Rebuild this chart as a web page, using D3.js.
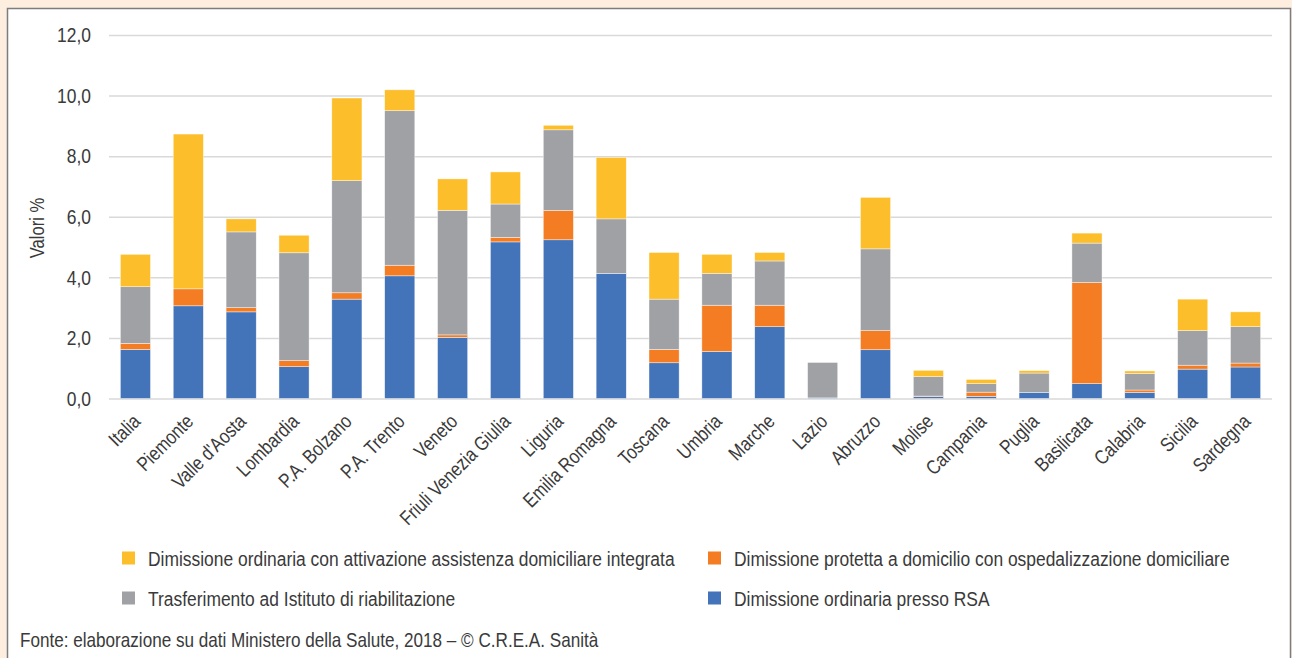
<!DOCTYPE html>
<html>
<head>
<meta charset="utf-8">
<script src="https://cdn.jsdelivr.net/npm/d3@7"></script>
<style>
  html, body { margin: 0; padding: 0; background: #fdeee0; }
  svg { display: block; }
  text { font-family: "Liberation Sans", Arial, sans-serif; fill: #3a3a3a; }
</style>
</head>
<body>
<svg id="chart" width="1292" height="658"></svg>
<script>
// Regioni (e media nazionale)
const categories = ["Italia", "Piemonte", "Valle d'Aosta", "Lombardia", "P.A. Bolzano", "P.A. Trento",
  "Veneto", "Friuli Venezia Giulia", "Liguria", "Emilia Romagna", "Toscana", "Umbria", "Marche",
  "Lazio", "Abruzzo", "Molise", "Campania", "Puglia", "Basilicata", "Calabria", "Sicilia", "Sardegna"];

// Valori % per modalità di dimissione
const rsa =            [1.62, 3.06, 2.86, 1.05, 3.28, 4.05, 2.02, 5.17, 5.24, 4.13, 1.18, 1.55, 2.37, 0.02, 1.61, 0.06, 0.07, 0.20, 0.49, 0.20, 0.97, 1.04];
const protetta =       [0.20, 0.56, 0.14, 0.20, 0.21, 0.35, 0.08, 0.15, 0.97, 0.00, 0.44, 1.53, 0.71, 0.00, 0.63, 0.02, 0.14, 0.00, 3.34, 0.08, 0.13, 0.13];
const riabilitazione = [1.87, 0.00, 2.50, 3.56, 3.70, 5.10, 4.11, 1.10, 2.66, 1.80, 1.66, 1.05, 1.46, 1.17, 2.70, 0.64, 0.28, 0.64, 1.30, 0.55, 1.14, 1.20];
const adi =            [1.07, 5.11, 0.43, 0.58, 2.73, 0.69, 1.04, 1.06, 0.15, 2.03, 1.54, 0.63, 0.28, 0.00, 1.70, 0.21, 0.14, 0.08, 0.33, 0.08, 1.04, 0.49];

const yTicks = [0, 2, 4, 6, 8, 10, 12];

const seriesKeys = ["rsa", "protetta", "riabilitazione", "adi"];
const seriesLabels = {
  adi: "Dimissione ordinaria con attivazione assistenza domiciliare integrata",
  protetta: "Dimissione protetta a domicilio con ospedalizzazione domiciliare",
  riabilitazione: "Trasferimento ad Istituto di riabilitazione",
  rsa: "Dimissione ordinaria presso RSA"
};
const colors = { rsa: "#4374b9", protetta: "#f47c23", riabilitazione: "#a0a1a4", adi: "#fdbe2b" };

const rows = categories.map((c, i) => ({
  name: c, rsa: rsa[i], protetta: protetta[i], riabilitazione: riabilitazione[i], adi: adi[i]
}));

// carattere stretto: Liberation Sans compresso in orizzontale
const NARROW = 0.83;

const svg = d3.select("#chart");
const W = 1292, H = 658;

// sfondo e riquadro
svg.append("rect").attr("width", W).attr("height", H).attr("fill", "#fdeee0");
svg.append("rect").attr("x", 7.5).attr("y", 8.5).attr("width", 1283).attr("height", 680)
  .attr("fill", "#fff").attr("stroke", "#7d7d7d").attr("stroke-width", 1.5);

const plot = { left: 109, right: 1272, top: 35, bottom: 398.5 };

const x = d3.scaleBand().domain(categories).range([plot.left, plot.right])
  .paddingInner(0.43).paddingOuter(0.215);
const y = d3.scaleLinear().domain([0, 12]).range([plot.bottom, plot.top]);

const it = d3.formatLocale({ decimal: ",", thousands: ".", grouping: [3], currency: ["€", ""] });
const fmt = it.format(".1f");

// griglia orizzontale ed etichette dell'asse Y
const yAxis = d3.axisLeft(y).tickValues(yTicks).tickFormat(fmt)
  .tickSize(-(plot.right - plot.left)).tickPadding(18);
const gy = svg.append("g").attr("transform", `translate(${plot.left},0)`).call(yAxis);
gy.select(".domain").remove();
gy.selectAll(".tick line").attr("stroke", "#d9d9d9").attr("stroke-width", 1.5);
gy.selectAll(".tick text")
  .attr("x", 0)
  .attr("transform", `translate(-18,0) scale(${NARROW},1)`)
  .attr("font-size", 21).attr("fill", "#3a3a3a")
  .style("font-family", '"Liberation Sans", Arial, sans-serif');

// barre impilate
const stack = d3.stack().keys(seriesKeys)(rows);
svg.append("g").selectAll("g").data(stack).join("g")
  .attr("fill", d => colors[d.key])
  .selectAll("rect").data(d => d).join("rect")
  .attr("x", d => x(d.data.name))
  .attr("width", x.bandwidth())
  .attr("y", d => y(d[1]))
  .attr("height", d => Math.max(0, y(d[0]) - y(d[1])))
  .attr("stroke", "#ffffff").attr("stroke-width", 0.6).attr("stroke-opacity", 0.7);

// etichette delle categorie
const xAxis = d3.axisBottom(x).tickSize(0).tickPadding(0);
const gx = svg.append("g").attr("transform", `translate(0,${plot.bottom})`).call(xAxis);
gx.select(".domain").remove();
gx.selectAll(".tick text")
  .attr("font-size", 20).attr("fill", "#3a3a3a")
  .style("font-family", '"Liberation Sans", Arial, sans-serif')
  .attr("text-anchor", "end")
  .attr("dy", "0.72em")
  .attr("transform", `translate(-4,14) rotate(-45) scale(${NARROW},1)`)
  .attr("x", 0).attr("y", 0);

// titolo asse Y
svg.append("text")
  .attr("transform", `translate(44,228) rotate(-90) scale(${NARROW},1)`)
  .attr("text-anchor", "middle")
  .attr("font-size", 20)
  .text("Valori %");

// legenda
const legendItems = [
  { key: "adi", x: 122, y: 558 },
  { key: "protetta", x: 708, y: 558 },
  { key: "riabilitazione", x: 122, y: 598 },
  { key: "rsa", x: 708, y: 598 }
];
const lg = svg.append("g").selectAll("g").data(legendItems).join("g")
  .attr("transform", d => `translate(${d.x},${d.y})`);
lg.append("rect").attr("x", 0).attr("y", -6.5).attr("width", 13).attr("height", 13)
  .attr("fill", d => colors[d.key]);
lg.append("text")
  .attr("transform", `translate(26,0) scale(${NARROW},1)`)
  .attr("dy", "0.36em")
  .attr("font-size", 21).text(d => seriesLabels[d.key]);

// fonte
svg.append("text")
  .attr("transform", "translate(20,647) scale(0.815,1)")
  .attr("font-size", 21)
  .text("Fonte: elaborazione su dati Ministero della Salute, 2018 – © C.R.E.A. Sanità");
</script>
</body>
</html>
